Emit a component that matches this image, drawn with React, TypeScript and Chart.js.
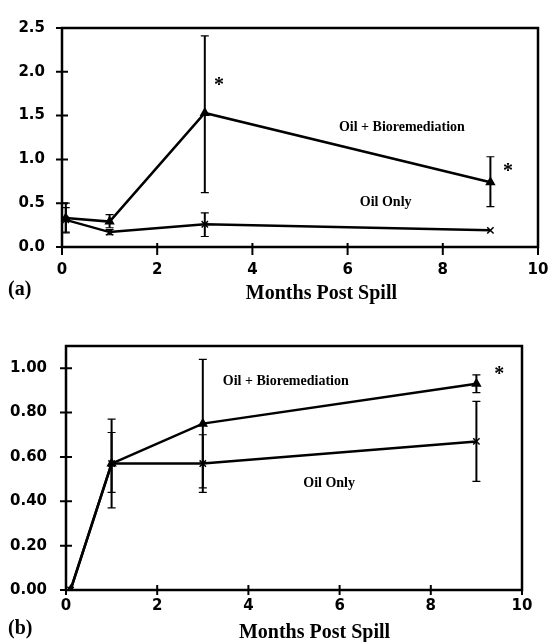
import React, { useEffect, useRef } from 'react';
import { Chart, registerables } from 'chart.js';

Chart.register(...registerables);

// ---------- data ----------
const seriesNames = ['Oil + Bioremediation', 'Oil Only'];
const xTitle = 'Months Post Spill';
const xTicks = [0, 2, 4, 6, 8, 10];

// Panel (a)
const monthsA = [0.08, 1, 3, 9];
const bioA = [0.33, 0.29, 1.53, 0.74];
const bioLowA = [0.16, 0.22, 0.62, 0.46];
const bioHighA = [0.5, 0.37, 2.41, 1.03];
const oilA = [0.31, 0.17, 0.26, 0.19];
const oilLowA = [0.17, 0.14, 0.12, 0.19];
const oilHighA = [0.45, 0.2, 0.39, 0.19];
const yTicksA = [0, 0.5, 1.0, 1.5, 2.0, 2.5];

// Panel (b)
const monthsB = [0.1, 1, 3, 9];
const bioB = [0, 0.57, 0.75, 0.93];
const bioLowB = [0, 0.37, 0.46, 0.89];
const bioHighB = [0, 0.77, 1.04, 0.97];
const oilB = [0, 0.57, 0.57, 0.67];
const oilLowB = [0, 0.44, 0.44, 0.49];
const oilHighB = [0, 0.71, 0.7, 0.85];
const yTicksB = [0, 0.2, 0.4, 0.6, 0.8, 1.0];

const W = 549;
const H = 321;

type Note = { text: string; x: number; y: number; size: number };

type Panel = {
  letter: string;
  months: number[];
  bio: number[];
  bioLow: number[];
  bioHigh: number[];
  oil: number[];
  oilLow: number[];
  oilHigh: number[];
  yMax: number;
  yTicks: number[];
  decimals: number;
  padTop: number;
  padRight: number;
  yAxisWidth: number;
  xAxisHeight: number;
  xPad: number;
  yPad: number;
  tickIn: number;
  tickOut: number;
  titleDy: number;
  letterDy: number;
  notes: Note[];
};

const panelA: Panel = {
  letter: '(a)',
  months: monthsA,
  bio: bioA,
  bioLow: bioLowA,
  bioHigh: bioHighA,
  oil: oilA,
  oilLow: oilLowA,
  oilHigh: oilHighA,
  yMax: 2.5,
  yTicks: yTicksA,
  decimals: 1,
  padTop: 28,
  padRight: 11,
  yAxisWidth: 62,
  xAxisHeight: H - 247,
  xPad: 14,
  yPad: 17,
  tickIn: 4,
  tickOut: 8,
  titleDy: 47,
  letterDy: 43,
  notes: [
    { text: '*', x: 3.3, y: 1.84, size: 20 },
    { text: '*', x: 9.37, y: 0.86, size: 20 },
    { text: seriesNames[0], x: 7.14, y: 1.37, size: 14 },
    { text: seriesNames[1], x: 6.8, y: 0.51, size: 14 },
  ],
};

const panelB: Panel = {
  letter: '(b)',
  months: monthsB,
  bio: bioB,
  bioLow: bioLowB,
  bioHigh: bioHighB,
  oil: oilB,
  oilLow: oilLowB,
  oilHigh: oilHighB,
  yMax: 1.1,
  yTicks: yTicksB,
  decimals: 2,
  padTop: 25,
  padRight: 27,
  yAxisWidth: 66,
  xAxisHeight: H - 269,
  xPad: 7,
  yPad: 19,
  tickIn: 5,
  tickOut: 5,
  titleDy: 43,
  letterDy: 39,
  notes: [
    { text: '*', x: 9.5, y: 0.97, size: 20 },
    { text: seriesNames[0], x: 4.82, y: 0.94, size: 14 },
    { text: seriesNames[1], x: 5.77, y: 0.48, size: 14 },
  ],
};

const SERIF = '"Liberation Serif", "Times New Roman", serif';
const SANS = '"DejaVu Sans", sans-serif';

function makePlugins(P: Panel) {
  const frame = {
    id: 'frame',
    beforeDatasetsDraw(chart: any) {
      const { ctx, chartArea: a, scales } = chart;
      ctx.save();
      ctx.strokeStyle = '#000';
      ctx.lineWidth = 2.5;
      ctx.strokeRect(a.left, a.top, a.right - a.left, a.bottom - a.top);
      ctx.lineWidth = 2;
      ctx.beginPath();
      scales.y.ticks.forEach((t: any) => {
        const py = scales.y.getPixelForValue(t.value);
        ctx.moveTo(a.left - 6, py);
        ctx.lineTo(a.left + 6, py);
      });
      scales.x.ticks.forEach((t: any) => {
        const px = scales.x.getPixelForValue(t.value);
        ctx.moveTo(px, a.bottom - P.tickIn);
        ctx.lineTo(px, a.bottom + P.tickOut);
      });
      ctx.stroke();
      ctx.restore();
    },
  };

  const errorBars = {
    id: 'errorBars',
    afterDatasetsDraw(chart: any) {
      const { ctx, scales } = chart;
      chart.data.datasets.forEach((ds: any) => {
        const lo: number[] = ds.errLow;
        const hi: number[] = ds.errHigh;
        if (!lo || !hi) return;
        ctx.save();
        ctx.strokeStyle = '#000';
        ds.data.forEach((p: any, i: number) => {
          if (hi[i] - lo[i] < 1e-9) return;
          const px = scales.x.getPixelForValue(p.x);
          const y1 = scales.y.getPixelForValue(lo[i]);
          const y2 = scales.y.getPixelForValue(hi[i]);
          ctx.lineWidth = 2;
          ctx.beginPath();
          ctx.moveTo(px, y1);
          ctx.lineTo(px, y2);
          ctx.stroke();
          ctx.lineWidth = 1.2;
          ctx.beginPath();
          ctx.moveTo(px - 4, y1);
          ctx.lineTo(px + 4, y1);
          ctx.moveTo(px - 4, y2);
          ctx.lineTo(px + 4, y2);
          ctx.stroke();
        });
        ctx.restore();
      });
    },
  };

  const notes = {
    id: 'notes',
    afterDraw(chart: any) {
      const { ctx, scales, chartArea: a } = chart;
      ctx.save();
      ctx.fillStyle = '#000';
      ctx.textAlign = 'center';
      ctx.textBaseline = 'middle';
      P.notes.forEach((n) => {
        ctx.font = `bold ${n.size}px ${SERIF}`;
        ctx.fillText(n.text, scales.x.getPixelForValue(n.x), scales.y.getPixelForValue(n.y));
      });
      ctx.font = `bold 20px ${SERIF}`;
      ctx.fillText(xTitle, scales.x.getPixelForValue(5.45), a.bottom + P.titleDy);
      ctx.textAlign = 'left';
      ctx.fillText(P.letter, 8, a.bottom + P.letterDy);
      ctx.restore();
    },
  };

  return [frame, errorBars, notes];
}

function makeConfig(P: Panel): any {
  const tickFont = { family: SANS, weight: 'bold', size: 15 };
  return {
    type: 'line',
    data: {
      datasets: [
        {
          label: seriesNames[0],
          data: P.months.map((m, i) => ({ x: m, y: P.bio[i] })),
          borderColor: '#000',
          backgroundColor: '#000',
          borderWidth: 2.5,
          pointStyle: 'triangle',
          pointRadius: 3.5,
          pointBackgroundColor: '#000',
          pointBorderColor: '#000',
          tension: 0,
          fill: false,
          errLow: P.bioLow,
          errHigh: P.bioHigh,
        },
        {
          label: seriesNames[1],
          data: P.months.map((m, i) => ({ x: m, y: P.oil[i] })),
          borderColor: '#000',
          backgroundColor: '#000',
          borderWidth: 2.5,
          pointStyle: 'crossRot',
          pointRadius: 4.5,
          pointBorderWidth: 1.5,
          pointBorderColor: '#000',
          tension: 0,
          fill: false,
          errLow: P.oilLow,
          errHigh: P.oilHigh,
        },
      ],
    },
    options: {
      responsive: false,
      animation: false,
      devicePixelRatio: 1,
      layout: { padding: { top: P.padTop, right: P.padRight, left: 0, bottom: 0 } },
      plugins: { legend: { display: false }, tooltip: { enabled: false } },
      scales: {
        x: {
          type: 'linear',
          min: 0,
          max: 10,
          afterBuildTicks: (s: any) => {
            s.ticks = xTicks.map((v) => ({ value: v }));
          },
          afterFit: (s: any) => {
            s.height = P.xAxisHeight;
            s.paddingLeft = 0;
            s.paddingRight = 0;
          },
          grid: { display: false, drawTicks: false },
          border: { display: false },
          ticks: {
            padding: P.xPad,
            color: '#000',
            font: tickFont,
            maxRotation: 0,
            callback: (v: any) => String(v),
          },
        },
        y: {
          type: 'linear',
          min: 0,
          max: P.yMax,
          afterBuildTicks: (s: any) => {
            s.ticks = P.yTicks.map((v) => ({ value: v }));
          },
          afterFit: (s: any) => {
            s.width = P.yAxisWidth;
            s.paddingTop = 0;
            s.paddingBottom = 0;
          },
          grid: { display: false, drawTicks: false },
          border: { display: false },
          ticks: {
            padding: P.yPad,
            color: '#000',
            font: tickFont,
            callback: (v: any) => Number(v).toFixed(P.decimals),
          },
        },
      },
    },
    plugins: makePlugins(P),
  };
}

function PanelChart({ panel, top }: { panel: Panel; top: number }) {
  const ref = useRef<HTMLCanvasElement | null>(null);
  useEffect(() => {
    if (!ref.current) return;
    const chart = new Chart(ref.current, makeConfig(panel));
    return () => chart.destroy();
  }, [panel]);
  return (
    <canvas
      ref={ref}
      width={W}
      height={H}
      style={{ position: 'absolute', left: 0, top, width: W, height: H, display: 'block' }}
    />
  );
}

export default function App() {
  return (
    <div
      style={{
        position: 'absolute',
        left: 0,
        top: 0,
        width: W,
        height: 2 * H,
        background: '#fff',
      }}
    >
      <PanelChart panel={panelA} top={0} />
      <PanelChart panel={panelB} top={H} />
    </div>
  );
}
